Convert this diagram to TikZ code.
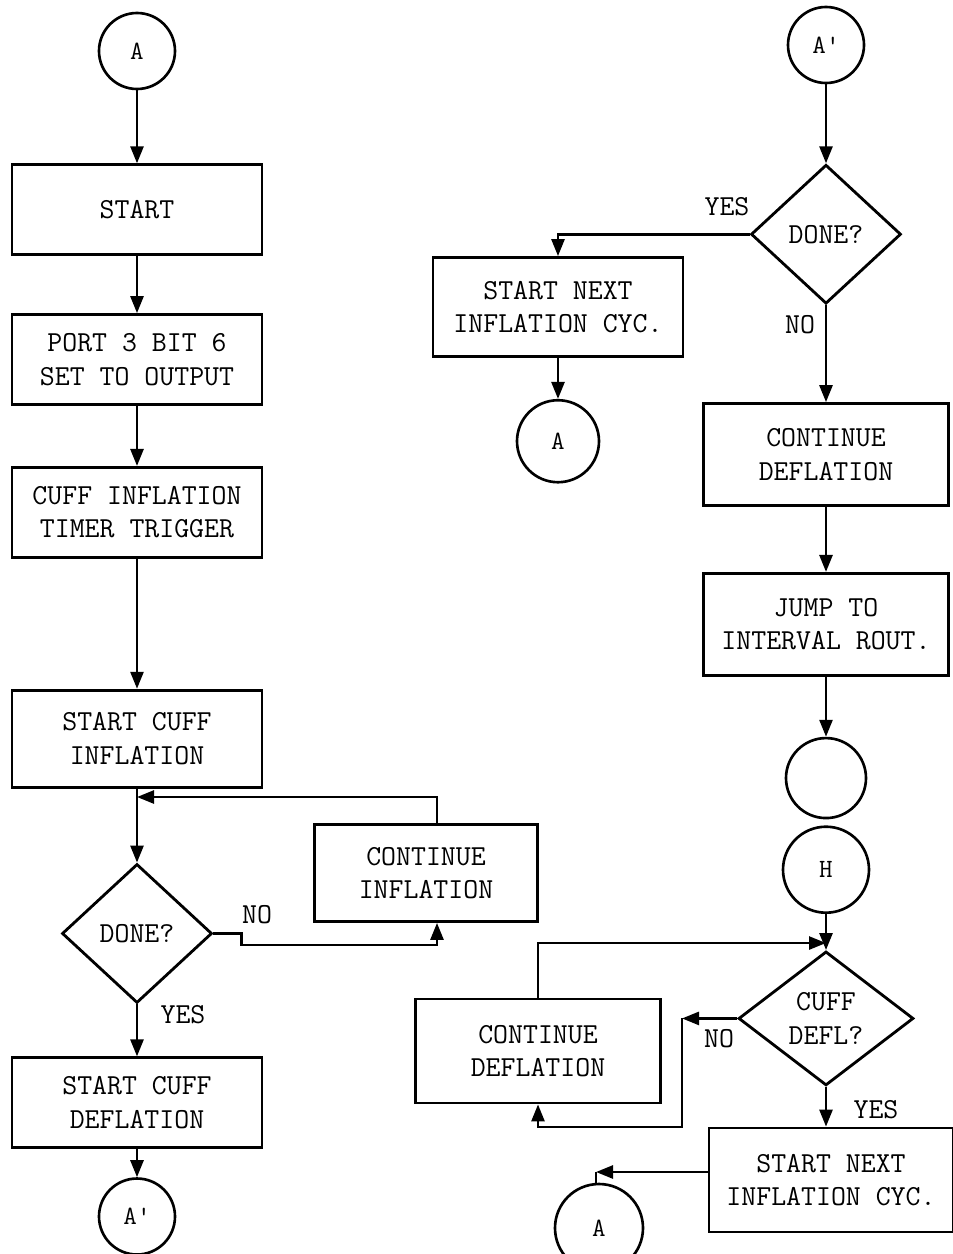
\documentclass[tikz,border=0pt]{standalone}
\usetikzlibrary{arrows.meta,positioning,shapes.geometric,calc}

\begin{document}
\begin{tikzpicture}[
  block/.style={rectangle, draw=black, line width=1.6pt, align=center, minimum width=5cm, minimum height=1.8cm, inner sep=2pt, font=\ttfamily\fontsize{16.5}{19}\selectfont},
  decision/.style={diamond, draw=black, line width=1.6pt, align=center, minimum width=3cm, minimum height=2.78cm, inner sep=1pt, font=\ttfamily\fontsize{16.5}{19}\selectfont},
  connector/.style={circle, draw=black, line width=1.5pt, minimum size=1.52cm, inner sep=0pt, font=\ttfamily\fontsize{15}{17}\selectfont},
  lbl/.style={font=\ttfamily\fontsize{16.5}{19}\selectfont, inner sep=1pt},
  arrow/.style={-{Triangle[length=3.4mm,width=2.6mm]}, line width=1.5pt, draw=black},
  wire/.style={line width=1.5pt, draw=black}
]
\useasboundingbox (0,0) rectangle (19.06,-25.08);

% left column
\node[connector] (cA) at (2.74,-1.02) {A};
\node[block, below=1.46cm of cA] (start) {START};
\node[block, below=1.14cm of start] (port) {PORT 3 BIT 6\\SET TO OUTPUT};
\node[block, below=1.2cm of port] (trig) {CUFF INFLATION\\TIMER TRIGGER};
\node[block, below=2.6cm of trig, minimum height=1.94cm] (infl) {START CUFF\\INFLATION};
\node[decision, below=1.48cm of infl] (done1) {DONE?};
\node[block, below=1.04cm of done1] (defl) {START CUFF\\DEFLATION};
\node[connector, below=0.56cm of defl] (cAp) {A'};
\node[block, minimum width=4.46cm, minimum height=1.94cm] (cont1) at (8.52,-17.46) {CONTINUE\\INFLATION};
\coordinate (j1) at (2.74,-15.94);
\coordinate (n1) at (8.74,-18.9);
\node[lbl] (lno1) at (5.14,-18.3) {NO};
\node[lbl] (lyes1) at (3.66,-20.3) {YES};

\draw[arrow] (cA) -- (start);
\draw[arrow] (start) -- (port);
\draw[arrow] (port) -- (trig);
\draw[arrow] (trig) -- (infl);
\draw[arrow] (infl) -- (done1);
\draw[arrow] ([xshift=0.22cm]cont1.north) |- (j1);
\draw[arrow] (done1.east) -- ++(0.56,0) |- (n1) -- (n1 |- cont1.south);
\draw[arrow] (done1) -- (defl);
\draw[arrow] (defl) -- (cAp);

% right column, top
\node[connector] (cAp2) at (16.52,-0.9) {A'};
\node[decision, below=1.58cm of cAp2] (done2) {DONE?};
\node[block, minimum height=1.98cm] (next1) at (11.16,-6.14) {START NEXT\\INFLATION CYC.};
\node[connector, below=0.82cm of next1, minimum size=1.64cm] (cA2) {A};
\node[block, below=1.94cm of done2, minimum width=4.9cm, minimum height=2.04cm] (contd) {CONTINUE\\DEFLATION};
\node[block, below=1.3cm of contd, minimum width=4.9cm, minimum height=2.04cm] (jump) {JUMP TO\\INTERVAL ROUT.};
\node[connector, below=1.2cm of jump, minimum size=1.6cm] (blank) {};
\node[lbl] (lyes2) at (14.54,-4.14) {YES};
\node[lbl] (lno2) at (16.0,-6.5) {NO};

\draw[arrow] (cAp2) -- (done2);
\draw[arrow] (done2.west) -| (next1.north);
\draw[arrow] (next1) -- (cA2);
\draw[arrow] (done2) -- (contd);
\draw[arrow] (contd) -- (jump);
\draw[arrow] (jump) -- (blank);

% right column, bottom
\node[connector, below=0.12cm of blank, minimum size=1.72cm] (cH) {H};
\node[decision, below=0.72cm of cH, minimum width=3.5cm, minimum height=2.68cm] (done3) {CUFF\\DEFL?};
\node[block, minimum width=4.9cm, minimum height=2.08cm] (contdl) at (10.76,-21.02) {CONTINUE\\DEFLATION};
\node[block, minimum width=4.88cm, minimum height=2.08cm] (next2) at (16.62,-23.6) {START NEXT\\INFLATION CYC.};
\node[connector, minimum size=1.76cm] (cA3) at (11.98,-24.56) {A};
\coordinate (j2) at ([yshift=0.14cm]done3.north);
\coordinate (c3) at (13.64,-20.44);
\coordinate (c4) at (10.76,-22.54);
\coordinate (c5) at (11.92,-23.44);
\node[lbl] (lno3) at (14.38,-20.78) {NO};
\node[lbl] (lyes3) at (17.52,-22.2) {YES};

\draw[arrow] (cH) -- (done3);
\draw[arrow] (contdl.north) |- (j2);
\draw[arrow] (done3.west) -- (done3.west -| c3);
\draw[arrow] (done3.west -| c3) |- (c4) -- (contdl.south);
\draw[arrow] (done3.south) -- (done3.south |- next2.north);
\draw[arrow] (next2.west |- c5) -- (c5);
\draw[wire] (c5) -- (c5 |- cA3.north);
\end{tikzpicture}
\end{document}
